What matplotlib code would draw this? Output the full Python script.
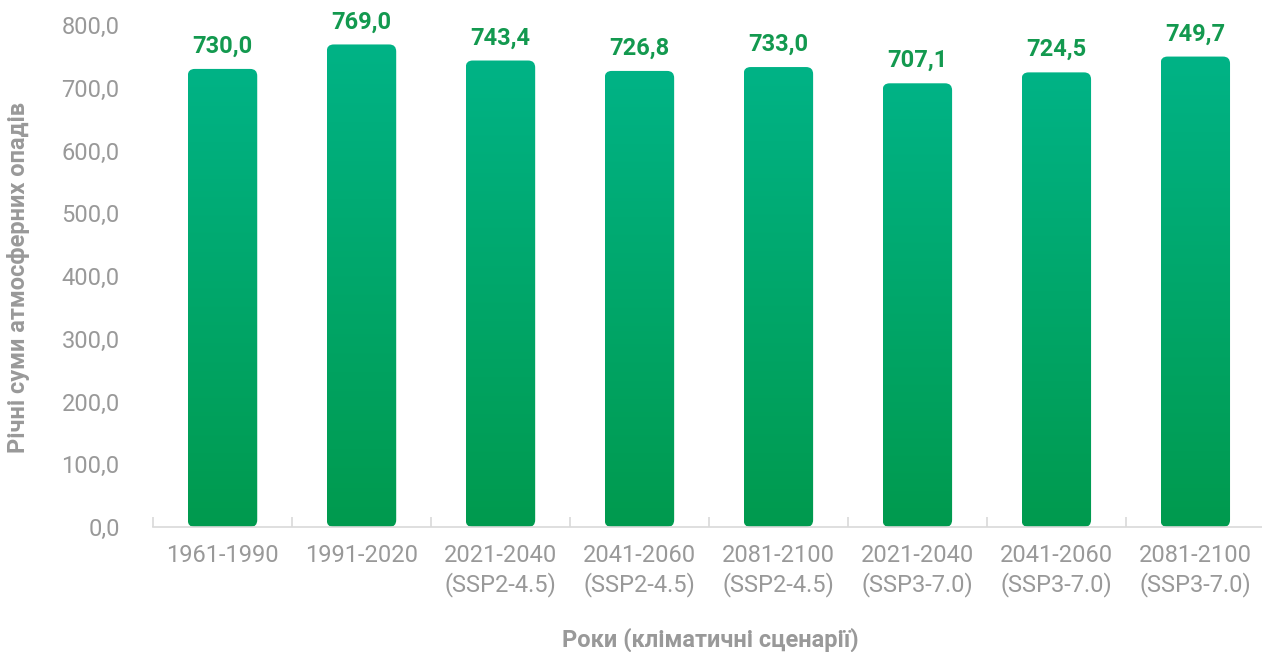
import numpy as np
from matplotlib import pyplot as plt
from matplotlib.patches import FancyBboxPatch
from matplotlib.colors import LinearSegmentedColormap

periods = ["1961-1990", "1991-2020", "2021-2040\n(SSP2-4.5)", "2041-2060\n(SSP2-4.5)",
           "2081-2100\n(SSP2-4.5)", "2021-2040\n(SSP3-7.0)", "2041-2060\n(SSP3-7.0)",
           "2081-2100\n(SSP3-7.0)"]
precip = [730.0, 769.0, 743.4, 726.8, 733.0, 707.1, 724.5, 749.7]
yticks = [0, 100, 200, 300, 400, 500, 600, 700, 800]

plt.rcParams['font.family'] = ['Roboto', 'DejaVu Sans']

W, H = 1262, 652
fig = plt.figure(figsize=(W / 100, H / 100), dpi=100)
left, right, bottom, top = 153, 1262, 527, 25
ax = fig.add_axes([left / W, 1 - bottom / H, (right - left) / W, (bottom - top) / H])

xmin, xmax = -0.5, 7.48
ax.set_xlim(xmin, xmax)
ax.set_ylim(0, 800)

# px per data unit, used to keep corner rounding circular
px_x = (right - left) / (xmax - xmin)
px_y = (bottom - top) / 800.0
aspect = px_x / px_y

cmap = LinearSegmentedColormap.from_list("grn", ["#009A4E", "#00B386"])
grad = np.linspace(0, 1, 256).reshape(-1, 1)
bar_w = 0.5
radius = 7 / px_x

for i, v in enumerate(precip):
    x0 = i - bar_w / 2
    patch = FancyBboxPatch((x0, 0), bar_w, v,
                           boxstyle="round,pad=0,rounding_size=%f" % radius,
                           mutation_aspect=aspect, fc="none", ec="none")
    ax.add_patch(patch)
    im = ax.imshow(grad, cmap=cmap, origin="lower", aspect="auto",
                   extent=[x0, x0 + bar_w, 0, v], zorder=2)
    im.set_clip_path(patch)
    ax.annotate("{:.1f}".format(v).replace(".", ","), (i, v), xytext=(0, 8),
                textcoords="offset points", ha="center", va="bottom",
                fontsize=17, fontweight="bold", color="#13994F")

ax.set_xlim(xmin, xmax)
ax.set_ylim(0, 800)

ax.set_xticks(range(len(periods)))
ax.set_xticklabels(periods, fontsize=17, color="#999999", linespacing=1.3)
ax.tick_params(axis="x", length=0, pad=12)
ax.set_xticks(np.arange(-0.5, len(periods) - 0.5, 1), minor=True)
ax.tick_params(axis="x", which="minor", direction="in", length=7, width=1.2,
               color="#D9D9D9")

ax.set_yticks(yticks)
ax.set_yticklabels(["{:.1f}".format(t).replace(".", ",") for t in yticks],
                   fontsize=17, color="#999999")
ax.tick_params(axis="y", length=0, pad=24)

for s in ["top", "right", "left"]:
    ax.spines[s].set_visible(False)
ax.spines["bottom"].set_color("#D9D9D9")
ax.spines["bottom"].set_linewidth(1.2)

fig.text(19 / W, 1 - 277 / H, "Річні суми атмосферних опадів", rotation=90,
         ha="center", va="center", fontsize=17, fontweight="bold", color="#999999")
fig.text(710 / W, 1 - 640 / H, "Роки (кліматичні сценарії)",
         ha="center", va="center", fontsize=17, fontweight="bold", color="#999999")

fig.savefig("out.png", dpi=100)
